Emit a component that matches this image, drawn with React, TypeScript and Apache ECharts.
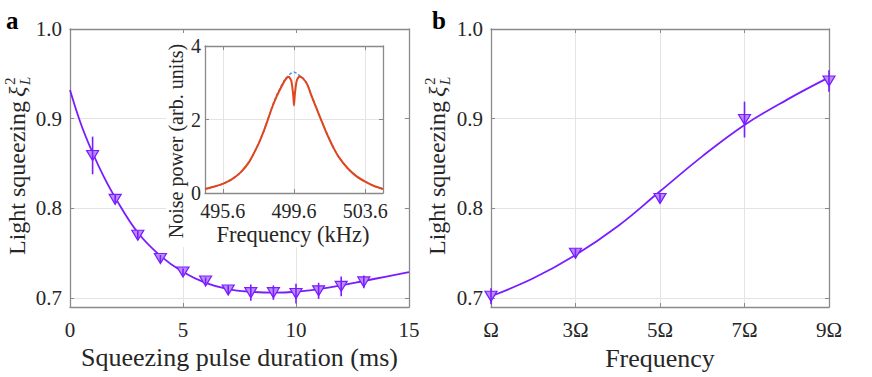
import React, { useEffect, useRef } from 'react';
import * as echarts from 'echarts';

// ---------- Panel a: squeezing vs pulse duration ----------
const durationMs = [1, 2, 3, 4, 5, 6, 7, 8, 9, 10, 11, 12, 13];
const squeezingA = [0.859, 0.81, 0.77, 0.744, 0.729, 0.719, 0.709, 0.706, 0.706, 0.705, 0.708, 0.713, 0.718];
const errorA = [0.021, 0.005, 0.005, 0.004, 0.004, 0.004, 0.005, 0.009, 0.008, 0.011, 0.009, 0.011, 0.007];
const fitDurationMs = [0, 0.5, 1, 1.5, 2, 3, 4, 5, 6, 7, 8, 9, 10, 11, 12, 13, 14, 15];
const fitA = [0.932, 0.893, 0.862, 0.835, 0.812, 0.773, 0.747, 0.729, 0.717, 0.71, 0.707, 0.706, 0.707, 0.71, 0.714, 0.719, 0.724, 0.729];
const durationTicks = [0, 5, 10, 15];
const squeezingTicks = [0.7, 0.8, 0.9, 1.0];

// ---------- Panel b: squeezing vs frequency harmonic ----------
const harmonic = [1, 3, 5, 7, 9];
const squeezingB = [0.702, 0.75, 0.811, 0.899, 0.942];
const errorB = [0.009, 0.005, 0.005, 0.02, 0.012];
const fitHarmonic = [1, 2, 3, 4, 5, 6, 7, 8, 9];
const fitB = [0.702, 0.722, 0.748, 0.78, 0.819, 0.858, 0.893, 0.921, 0.946];
const harmonicTicks = [1, 3, 5, 7, 9];
const harmonicLabels = ['Ω', '3Ω', '5Ω', '7Ω', '9Ω'];

// ---------- Inset: noise power spectrum ----------
const freqKHz = [494.6, 495.1, 495.6, 496.1, 496.6, 497.1, 497.6, 497.85, 498.1, 498.35, 498.6, 498.85, 499.1, 499.3, 499.45, 499.55, 499.6, 499.65, 499.75, 499.9, 500.1, 500.35, 500.6, 500.85, 501.1, 501.35, 501.6, 501.85, 502.1, 502.6, 503.1, 503.6, 504.1, 504.6];
const noiseSqueezed = [0.11, 0.17, 0.25, 0.37, 0.56, 0.86, 1.33, 1.62, 1.95, 2.3, 2.6, 2.85, 3.07, 3.16, 3.05, 2.7, 2.38, 2.7, 3.05, 3.17, 3.12, 2.95, 2.62, 2.32, 2.02, 1.72, 1.45, 1.2, 0.99, 0.68, 0.46, 0.31, 0.19, 0.11];
const noiseReference = [0.11, 0.17, 0.25, 0.37, 0.56, 0.86, 1.33, 1.62, 1.96, 2.32, 2.63, 2.88, 3.1, 3.2, 3.26, 3.28, 3.29, 3.28, 3.26, 3.2, 3.13, 2.96, 2.63, 2.33, 2.02, 1.73, 1.46, 1.2, 0.99, 0.68, 0.46, 0.31, 0.19, 0.11];
const freqTicks = [495.6, 499.6, 503.6];
const noiseTicks = [0, 2, 4];

const FONT = "'Liberation Serif', 'Times New Roman', serif";
const AXIS_GRAY = '#8a8a8a';
const GRID_GRAY = '#e4e4e4';
const TEXT = '#262626';
const PURPLE = '#7a1cff';
const PURPLE_FILL = '#b98cff';
const RED = '#e2451c';
const BLUE = '#4a90f0';

function axis(
  gridIndex: number,
  position: string,
  min: number,
  max: number,
  ticks: number[],
  opts: { label?: boolean; split?: boolean; fontSize?: number; margin?: number; formatter?: (v: number) => string; z?: number }
) {
  return {
    type: 'value',
    gridIndex,
    position,
    min,
    max,
    z: opts.z ?? 0,
    axisLine: { show: true, onZero: false, lineStyle: { color: AXIS_GRAY, width: 1.3 } },
    axisTick: { show: true, inside: true, length: 4, customValues: ticks, lineStyle: { color: AXIS_GRAY, width: 1 } },
    axisLabel: {
      show: !!opts.label,
      customValues: ticks,
      color: TEXT,
      fontFamily: FONT,
      fontSize: opts.fontSize ?? 21,
      margin: opts.margin ?? 8,
      formatter: opts.formatter,
      hideOverlap: false,
      showMinLabel: true,
      showMaxLabel: true,
    },
    splitLine: { show: !!opts.split, lineStyle: { color: GRID_GRAY, width: 1 } },
  };
}

const errRender = (params: any, api: any) => {
  const x = api.value(0);
  const y = api.value(1);
  const e = api.value(2);
  const p1 = api.coord([x, y - e]);
  const p2 = api.coord([x, y + e]);
  return {
    type: 'line',
    shape: { x1: p1[0], y1: p1[1], x2: p2[0], y2: p2[1] },
    style: { stroke: PURPLE, lineWidth: 1.6 },
  };
};

function yTitle(x: number, y: number) {
  const base = { fill: TEXT, fontFamily: FONT, textVerticalAlign: 'middle', verticalAlign: 'middle' };
  return {
    type: 'group',
    x,
    y,
    rotation: Math.PI / 2,
    children: [
      { type: 'text', style: { ...base, text: 'Light squeezing', x: -17, y: 0, fontSize: 24, textAlign: 'right', align: 'right' } },
      { type: 'text', style: { ...base, text: 'ξ', x: -13, y: 0, fontSize: 24, fontStyle: 'italic', textAlign: 'left', align: 'left' } },
      { type: 'text', style: { ...base, text: '2', x: -1, y: -7, fontSize: 15, textAlign: 'left', align: 'left' } },
      { type: 'text', style: { ...base, text: 'L', x: -1, y: 8, fontSize: 15, fontStyle: 'italic', textAlign: 'left', align: 'left' } },
    ],
  };
}

function centeredText(text: string, x: number, y: number, fontSize: number, rotation = 0) {
  return {
    type: 'text',
    z: 12,
    x,
    y,
    rotation,
    style: {
      text,
      x: 0,
      y: 0,
      fill: TEXT,
      fontFamily: FONT,
      fontSize,
      textAlign: 'center',
      align: 'center',
      textVerticalAlign: 'middle',
      verticalAlign: 'middle',
    },
  };
}

export default function App() {
  const ref = useRef<HTMLDivElement>(null);
  useEffect(() => {
    if (!ref.current) return;
    const chart = echarts.init(ref.current, undefined, { renderer: 'svg' });
    const fmt1 = (v: number) => v.toFixed(1);
    const option: any = {
      animation: false,
      backgroundColor: '#ffffff',
      textStyle: { fontFamily: FONT },
      grid: [
        { left: 70, top: 29, width: 339, height: 278 },
        { left: 491, top: 29, width: 338, height: 278 },
        { left: 205, top: 46, width: 178, height: 147 },
      ],
      xAxis: [
        axis(0, 'bottom', 0, 15, durationTicks, { label: true, split: true, margin: 12, formatter: (v) => String(v) }),
        axis(0, 'top', 0, 15, durationTicks, {}),
        axis(1, 'bottom', 1, 9, harmonicTicks, {
          label: true,
          split: true,
          margin: 12,
          formatter: (v) => harmonicLabels[harmonicTicks.indexOf(v)] ?? '',
        }),
        axis(1, 'top', 1, 9, harmonicTicks, {}),
        axis(2, 'bottom', 494.6, 504.6, freqTicks, { label: true, split: true, fontSize: 20, margin: 8, formatter: fmt1, z: 10 }),
        axis(2, 'top', 494.6, 504.6, freqTicks, { z: 10 }),
      ],
      yAxis: [
        axis(0, 'left', 0.69, 1.0, squeezingTicks, { label: true, split: true, margin: 8, formatter: fmt1 }),
        axis(0, 'right', 0.69, 1.0, squeezingTicks, {}),
        axis(1, 'left', 0.69, 1.0, squeezingTicks, { label: true, split: true, margin: 8, formatter: fmt1 }),
        axis(1, 'right', 0.69, 1.0, squeezingTicks, {}),
        axis(2, 'left', 0, 4, noiseTicks, { label: true, split: true, fontSize: 20, margin: 4, formatter: (v) => String(v), z: 10 }),
        axis(2, 'right', 0, 4, noiseTicks, { z: 10 }),
      ],
      series: [
        {
          type: 'line',
          xAxisIndex: 0,
          yAxisIndex: 0,
          data: fitDurationMs.map((x, i) => [x, fitA[i]]),
          smooth: 0.4,
          showSymbol: false,
          lineStyle: { color: PURPLE, width: 1.8 },
          z: 2,
        },
        {
          type: 'scatter',
          xAxisIndex: 0,
          yAxisIndex: 0,
          data: durationMs.map((x, i) => [x, squeezingA[i]]),
          symbol: 'triangle',
          symbolRotate: 180,
          symbolSize: [12, 10],
          itemStyle: { color: PURPLE_FILL, borderColor: PURPLE, borderWidth: 1.2, opacity: 1 },
          z: 3,
        },
        {
          type: 'custom',
          xAxisIndex: 0,
          yAxisIndex: 0,
          data: durationMs.map((x, i) => [x, squeezingA[i], errorA[i]]),
          encode: { x: 0, y: 1 },
          renderItem: errRender,
          clip: false,
          z: 4,
        },
        {
          type: 'line',
          xAxisIndex: 2,
          yAxisIndex: 2,
          data: fitHarmonic.map((x, i) => [x, fitB[i]]),
          smooth: 0.4,
          showSymbol: false,
          lineStyle: { color: PURPLE, width: 1.8 },
          z: 2,
        },
        {
          type: 'scatter',
          xAxisIndex: 2,
          yAxisIndex: 2,
          data: harmonic.map((x, i) => [x, squeezingB[i]]),
          symbol: 'triangle',
          symbolRotate: 180,
          symbolSize: [12, 10],
          itemStyle: { color: PURPLE_FILL, borderColor: PURPLE, borderWidth: 1.2, opacity: 1 },
          z: 3,
        },
        {
          type: 'custom',
          xAxisIndex: 2,
          yAxisIndex: 2,
          data: harmonic.map((x, i) => [x, squeezingB[i], errorB[i]]),
          encode: { x: 0, y: 1 },
          renderItem: errRender,
          clip: false,
          z: 4,
        },
        {
          type: 'line',
          xAxisIndex: 4,
          yAxisIndex: 4,
          data: freqKHz.map((x, i) => [x, noiseReference[i]]),
          smooth: 0.2,
          showSymbol: false,
          lineStyle: { color: BLUE, width: 1.5, type: [3, 2] },
          z: 11,
        },
        {
          type: 'line',
          xAxisIndex: 4,
          yAxisIndex: 4,
          data: freqKHz.map((x, i) => [x, noiseSqueezed[i]]),
          smooth: 0.2,
          showSymbol: false,
          lineStyle: { color: RED, width: 2 },
          z: 12,
        },
      ],
      graphic: [
        { type: 'rect', z: 9, shape: { x: 166, y: 33, width: 238, height: 214 }, style: { fill: '#ffffff' } },
        {
          type: 'text',
          z: 12,
          style: { text: 'a', x: 6, y: 20, fill: '#000', fontFamily: FONT, fontSize: 25, fontWeight: 'bold', textVerticalAlign: 'middle', verticalAlign: 'middle' },
        },
        {
          type: 'text',
          z: 12,
          style: { text: 'b', x: 432, y: 20, fill: '#000', fontFamily: FONT, fontSize: 25, fontWeight: 'bold', textVerticalAlign: 'middle', verticalAlign: 'middle' },
        },
        yTitle(17, 84),
        yTitle(437, 84),
        centeredText('Squeezing pulse duration (ms)', 239.5, 357.5, 26),
        centeredText('Frequency', 660, 358.5, 26),
        centeredText('Frequency (kHz)', 293, 234, 22.5),
        centeredText('Noise power (arb. units)', 176, 141, 20, Math.PI / 2),
      ],
    };
    chart.setOption(option);
    return () => chart.dispose();
  }, []);
  return <div ref={ref} style={{ position: 'absolute', left: 0, top: 0, width: 872, height: 377 }} />;
}
